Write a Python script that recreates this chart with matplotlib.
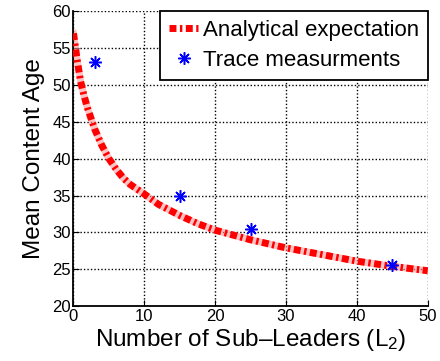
import matplotlib
matplotlib.use('Agg')
import matplotlib.pyplot as plt

plt.rcParams['font.family'] = ['Liberation Sans', 'DejaVu Sans']
plt.rcParams['mathtext.fontset'] = 'custom'
plt.rcParams['mathtext.rm'] = 'Liberation Sans'
plt.rcParams['mathtext.it'] = 'Liberation Sans:italic'

# analytical curve
curve_x = [0, 0.5, 1, 1.5, 2, 3, 4, 5, 6, 7, 8, 10, 12, 15, 17.5, 20, 25, 30, 35, 40, 45, 50]
curve_y = [57, 53.5, 50.5, 48.5, 46.8, 44, 41.8, 40, 38.6, 37.4, 36.5, 35.2, 33.8, 32.3, 31.2, 30.3, 29, 27.9, 27, 26.1, 25.4, 24.8]

# trace measurements
meas_x = [3, 15, 25, 45]
meas_y = [53.1, 35.0, 30.4, 25.6]

fig = plt.figure(figsize=(4.4, 3.61), dpi=100)
ax = fig.add_axes([0.167, 0.152, 0.805, 0.817])

# pink halo under the dash-dot line
ax.plot(curve_x, curve_y, color='#ff9a9a', lw=5, alpha=0.6, zorder=2)
line, = ax.plot(curve_x, curve_y, color='red', lw=5,
                linestyle=(0, (1.0, 0.5, 0.35, 0.5)), zorder=3,
                label='Analytical expectation')
pts, = ax.plot(meas_x, meas_y, linestyle='none', marker=(8, 2, 0),
               markersize=9, markeredgewidth=1.1, color='blue', zorder=4,
               label='Trace measurments')

ax.set_xlim(0, 50)
ax.set_ylim(20, 60)
ax.set_xticks([0, 10, 20, 30, 40, 50])
ax.set_yticks([20, 25, 30, 35, 40, 45, 50, 55, 60])
ax.grid(True, color='black', linestyle=(0, (1, 1.5)), linewidth=1.0)
ax.tick_params(direction='in', length=4, labelsize=12, pad=2)
ax.spines['top'].set_visible(False)
ax.spines['right'].set_visible(False)
for s in ['left', 'bottom']:
    ax.spines[s].set_linewidth(1.3)

ax.set_xlabel('Number of Sub\u2013Leaders (L$_2$)', fontsize=17.5, labelpad=2)
ax.set_ylabel('Mean Content Age', fontsize=17.5, labelpad=5)

leg = ax.legend(handles=[line, pts], loc='upper right', fontsize=16,
                borderaxespad=0, fancybox=False, framealpha=1,
                edgecolor='black', handlelength=1.3, handletextpad=0.2,
                borderpad=0.4, labelspacing=0.4)
leg.get_frame().set_linewidth(1.3)

fig.savefig('out.png', dpi=100)
